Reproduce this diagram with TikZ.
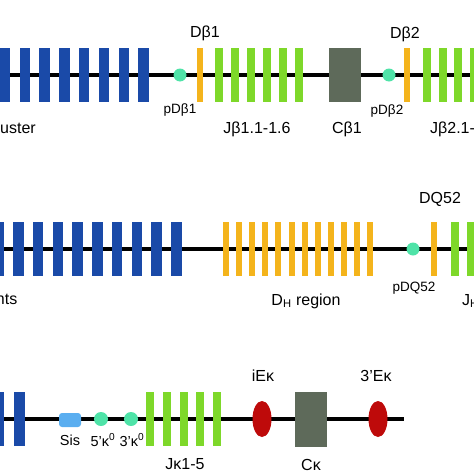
\documentclass[tikz,border=0pt]{standalone}
\usepackage{fontspec}
\setmainfont{Liberation Sans}
\usepackage{tikz}
\usetikzlibrary{shapes.geometric}

\definecolor{vblue}{HTML}{1A4AA8}
\definecolor{dorange}{HTML}{F4B41C}
\definecolor{jgreen}{HTML}{7ED82A}
\definecolor{cgrey}{HTML}{5E6A5A}
\definecolor{pmint}{HTML}{4FE3A8}
\definecolor{ered}{HTML}{BE0A0A}
\definecolor{sblue}{HTML}{5AAEF0}

\begin{document}
\begin{tikzpicture}[x=1pt,y=-1pt,node distance=19.8pt]
		\tikzstyle{backbone}=[line width=4pt, black]
		\tikzstyle{v seg}=[rectangle, fill=vblue, minimum width=10.5pt, minimum height=54.5pt, inner sep=0pt, node distance=19.8pt]
		\tikzstyle{d seg}=[rectangle, fill=dorange, minimum width=6pt, minimum height=54.5pt, inner sep=0pt, node distance=13.1pt]
		\tikzstyle{j seg}=[rectangle, fill=jgreen, minimum width=8pt, minimum height=54.5pt, inner sep=0pt, node distance=16pt]
		\tikzstyle{c seg}=[rectangle, fill=cgrey, minimum width=32pt, minimum height=54.5pt, inner sep=0pt]
		\tikzstyle{promoter}=[circle, fill=pmint, minimum size=13pt, inner sep=0pt]
		\tikzstyle{enhancer}=[ellipse, fill=ered, minimum width=19pt, minimum height=36pt, inner sep=0pt]
		\tikzstyle{silencer}=[rectangle, rounded corners=3pt, fill=sblue, minimum width=22pt, minimum height=14pt, inner sep=0pt]
		\tikzstyle{big label}=[inner sep=0pt, font=\fontsize{16}{19}\selectfont]
		\tikzstyle{small label}=[inner sep=0pt, font=\fontsize{13.5}{16}\selectfont]

		\useasboundingbox (0,0) rectangle (474,474);
		\clip (0,0) rectangle (474,474);

		% TCRb locus
		\coordinate (r1w) at (0,75);
		\coordinate (r1e) at (480,75);
		\draw [backbone] (r1w) -- (r1e);
		\node [v seg] (vb1) at (5,75) {};
		\node [v seg] (vb2) [right of=vb1] {};
		\node [v seg] (vb3) [right of=vb2] {};
		\node [v seg] (vb4) [right of=vb3] {};
		\node [v seg] (vb5) [right of=vb4] {};
		\node [v seg] (vb6) [right of=vb5] {};
		\node [v seg] (vb7) [right of=vb6] {};
		\node [v seg] (vb8) [right of=vb7] {};
		\node [promoter] (pdb1) at (180,75) {};
		\node [d seg] (db1) at (199.5,75) {};
		\node [j seg] (jb11) at (219,75) {};
		\node [j seg] (jb12) [right of=jb11] {};
		\node [j seg] (jb13) [right of=jb12] {};
		\node [j seg] (jb14) [right of=jb13] {};
		\node [j seg] (jb15) [right of=jb14] {};
		\node [j seg] (jb16) [right of=jb15] {};
		\node [c seg] (cb1) at (345,75) {};
		\node [promoter] (pdb2) at (389,75) {};
		\node [d seg] (db2) at (407,75) {};
		\node [j seg] (jb21) at (427,75) {};
		\node [j seg, node distance=15.7pt] (jb22) [right of=jb21] {};
		\node [j seg, node distance=15.7pt] (jb23) [right of=jb22] {};
		\node [j seg, node distance=15.7pt] (jb24) [right of=jb23] {};

		\node [big label, anchor=east] (lvb) at (36,129) {Vβ cluster};
		\node [big label] (ldb1) at (205,33) {Dβ1};
		\node [small label] (lpdb1) at (180,110) {pDβ1};
		\node [big label] (ljb1) at (257,129) {Jβ1.1-1.6};
		\node [big label] (lcb1) at (347,129) {Cβ1};
		\node [big label] (ldb2) at (405,34) {Dβ2};
		\node [small label] (lpdb2) at (387,111) {pDβ2};
		\node [big label, anchor=west] (ljb2) at (430,129) {Jβ2.1-2.7};

		% IgH locus
		\coordinate (r2w) at (0,249);
		\coordinate (r2e) at (480,249);
		\draw [backbone] (r2w) -- (r2e);
		\node [v seg, node distance=19.75pt] (vh1) at (-1.5,249) {};
		\node [v seg, node distance=19.75pt] (vh2) [right of=vh1] {};
		\node [v seg, node distance=19.75pt] (vh3) [right of=vh2] {};
		\node [v seg, node distance=19.75pt] (vh4) [right of=vh3] {};
		\node [v seg, node distance=19.75pt] (vh5) [right of=vh4] {};
		\node [v seg, node distance=19.75pt] (vh6) [right of=vh5] {};
		\node [v seg, node distance=19.75pt] (vh7) [right of=vh6] {};
		\node [v seg, node distance=19.75pt] (vh8) [right of=vh7] {};
		\node [v seg, node distance=19.75pt] (vh9) [right of=vh8] {};
		\node [v seg, node distance=19.75pt] (vh10) [right of=vh9] {};
		\node [d seg] (dh1) at (226,249) {};
		\node [d seg] (dh2) [right of=dh1] {};
		\node [d seg] (dh3) [right of=dh2] {};
		\node [d seg] (dh4) [right of=dh3] {};
		\node [d seg] (dh5) [right of=dh4] {};
		\node [d seg] (dh6) [right of=dh5] {};
		\node [d seg] (dh7) [right of=dh6] {};
		\node [d seg] (dh8) [right of=dh7] {};
		\node [d seg] (dh9) [right of=dh8] {};
		\node [d seg] (dh10) [right of=dh9] {};
		\node [d seg] (dh11) [right of=dh10] {};
		\node [d seg] (dh12) [right of=dh11] {};
		\node [promoter] (pdq) at (413,249) {};
		\node [d seg] (dq52) at (434,249) {};
		\node [j seg] (jh1) at (455,249) {};
		\node [j seg] (jh2) [right of=jh1] {};

		\node [big label, anchor=east] (lvh) at (17.5,301) {V\textsubscript{H} segments};
		\node [big label] (ldh) at (306,301) {D\textsubscript{H} region};
		\node [big label] (ldq) at (440,199) {DQ52};
		\node [small label] (lpdq) at (414,288) {pDQ52};
		\node [big label, anchor=west] (ljh) at (462,301) {J\textsubscript{H}};

		% Igk locus
		\coordinate (r3w) at (0,419);
		\coordinate (r3e) at (404,419);
		\draw [backbone] (r3w) -- (r3e);
		\node [v seg] (vk1) at (-1.5,419) {};
		\node [v seg, node distance=21pt] (vk2) [right of=vk1] {};
		\node [silencer] (sis) at (70,420) {};
		\node [promoter, minimum size=14pt] (k5) at (101,419) {};
		\node [promoter, minimum size=14pt] (k3) at (131,419) {};
		\node [j seg, node distance=16.8pt] (jk1) at (150,419) {};
		\node [j seg, node distance=16.8pt] (jk2) [right of=jk1] {};
		\node [j seg, node distance=16.8pt] (jk3) [right of=jk2] {};
		\node [j seg, node distance=16.8pt] (jk4) [right of=jk3] {};
		\node [j seg, node distance=16.8pt] (jk5) [right of=jk4] {};
		\node [enhancer] (iek) at (262,419) {};
		\node [c seg] (ck) at (311,419.5) {};
		\node [enhancer] (e3k) at (378,419) {};

		\node [small label, font=\fontsize{14.5}{17}\selectfont] (lsis) at (70,440) {Sis};
		\node [small label, font=\fontsize{14.5}{17}\selectfont] (lk5) at (103,440) {5’κ\textsuperscript{0}};
		\node [small label, font=\fontsize{14.5}{17}\selectfont] (lk3) at (132,440) {3’κ\textsuperscript{0}};
		\node [big label] (ljk) at (185,464) {Jκ1-5};
		\node [big label] (liek) at (263,376) {iEκ};
		\node [big label] (lck) at (311,465) {Cκ};
		\node [big label] (le3k) at (376,376) {3’Eκ};
	\end{tikzpicture}
\end{document}
